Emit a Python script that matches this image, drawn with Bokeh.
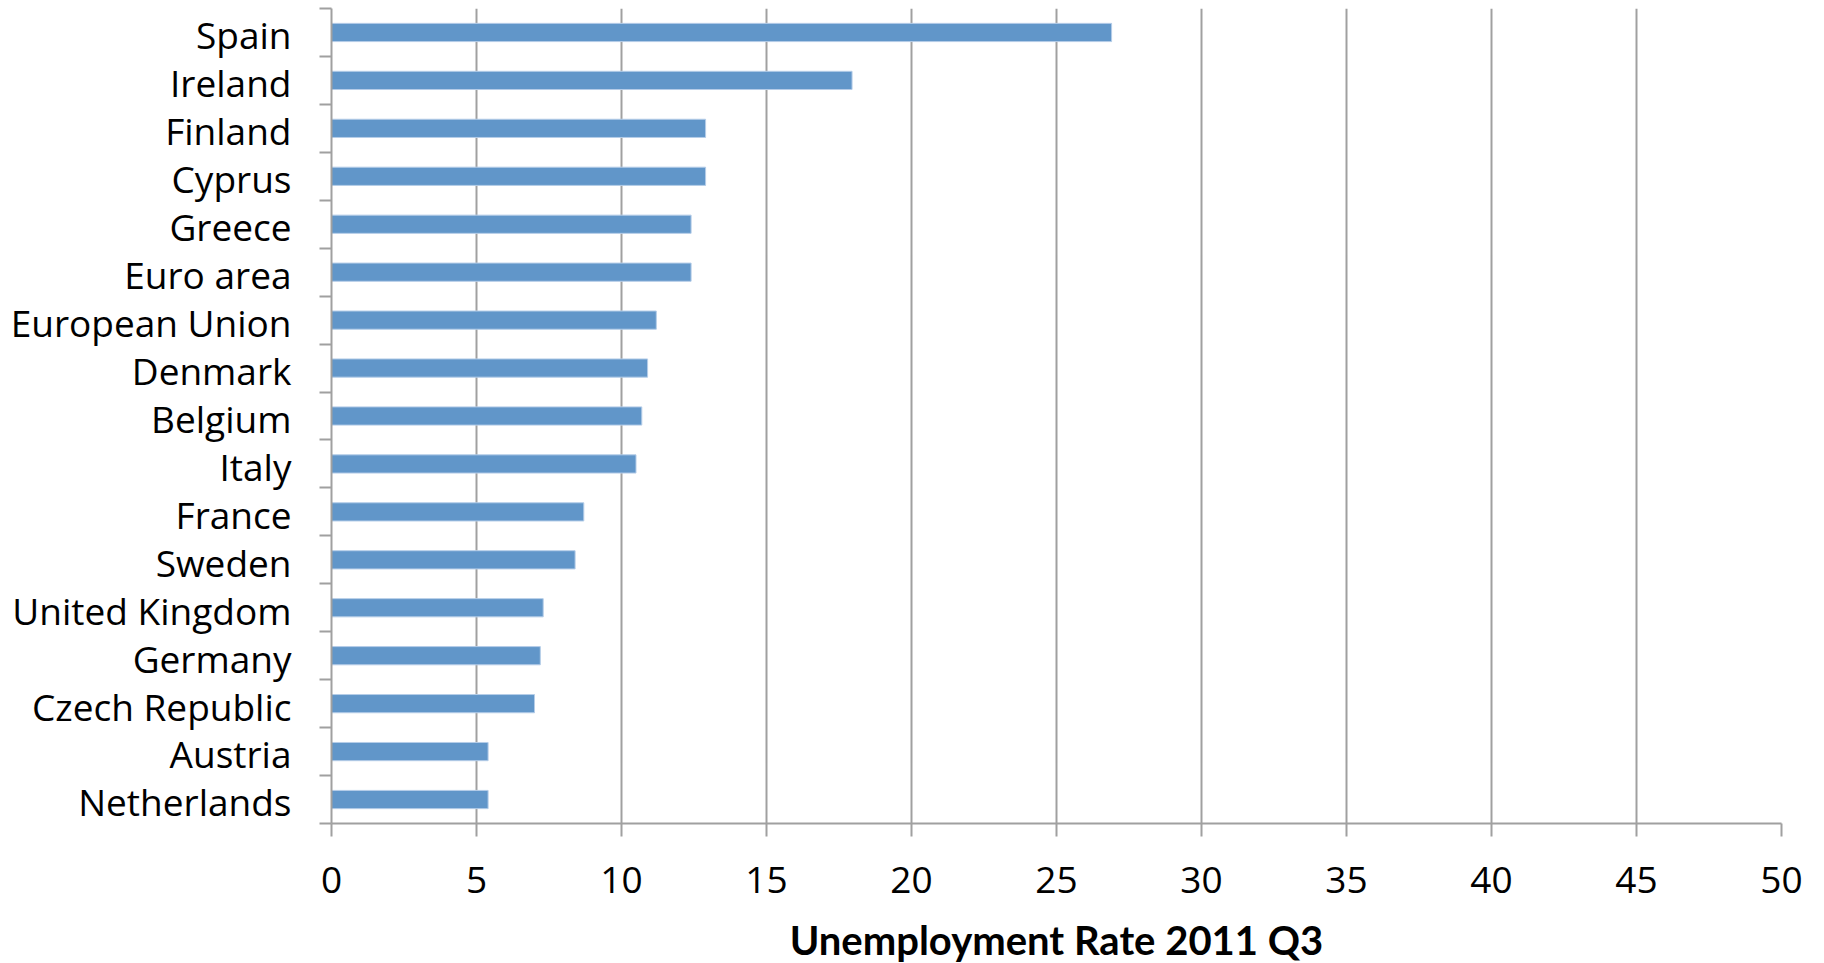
from bokeh.plotting import figure
from bokeh.models import Range1d, FixedTicker
from bokeh.embed import file_html
from bokeh.resources import INLINE

countries = ["Spain", "Ireland", "Finland", "Cyprus", "Greece", "Euro area",
             "European Union", "Denmark", "Belgium", "Italy", "France", "Sweden",
             "United Kingdom", "Germany", "Czech Republic", "Austria", "Netherlands"]
rates = [26.9, 17.95, 12.9, 12.9, 12.4, 12.4, 11.2, 10.9, 10.7, 10.5, 8.7, 8.4,
         7.3, 7.2, 7.0, 5.4, 5.4]
x_ticks = [0, 5, 10, 15, 20, 25, 30, 35, 40, 45, 50]
x_title = "Unemployment Rate 2011 Q3"

n = len(countries)
ypos = [n - i - 0.5 for i in range(n)]
label_pos = [y - 0.05 for y in ypos]
bounds = [float(k) for k in range(n + 1)]

FONT = "Open Sans"
TFONT = "Lato"
GRAY = "#A0A0A0"

p = figure(frame_width=1450, frame_height=815,
           min_border_left=331, min_border_right=35,
           min_border_top=8, min_border_bottom=132,
           x_range=Range1d(0, 50), y_range=Range1d(0, n),
           output_backend="svg", toolbar_location=None)
p.outline_line_color = None
p.background_fill_color = "white"
p.border_fill_color = "white"

p.hbar(y=ypos, right=rates, left=0, height=0.38,
       fill_color="#6196C9", line_color="#B5CDE8", line_width=1)

# x axis
p.xaxis.ticker = FixedTicker(ticks=x_ticks)
p.xaxis.axis_line_color = GRAY
p.xaxis.axis_line_width = 2
p.xaxis.major_tick_line_color = GRAY
p.xaxis.major_tick_line_width = 2
p.xaxis.major_tick_out = 13
p.xaxis.major_tick_in = 0
p.xaxis.minor_tick_line_color = None
p.xaxis.major_label_text_font = FONT
p.xaxis.major_label_text_font_size = "37px"
p.xaxis.major_label_text_color = "black"
p.xaxis.major_label_standoff = 30
p.xaxis.axis_label = x_title
p.xaxis.axis_label_text_font = TFONT
p.xaxis.axis_label_text_font_style = "bold"
p.xaxis.axis_label_text_font_size = "40px"
p.xaxis.axis_label_text_color = "black"
p.xaxis.axis_label_standoff = 20

p.xgrid.ticker = FixedTicker(ticks=x_ticks)
p.xgrid.grid_line_color = GRAY
p.xgrid.grid_line_width = 2
p.ygrid.grid_line_color = None

# y axis
p.yaxis.ticker = FixedTicker(ticks=label_pos, minor_ticks=bounds)
p.yaxis.major_label_overrides = {y: c for y, c in zip(label_pos, countries)}
p.yaxis.axis_line_color = GRAY
p.yaxis.axis_line_width = 2
p.yaxis.major_tick_line_color = None
p.yaxis.major_tick_out = 0
p.yaxis.major_tick_in = 0
p.yaxis.minor_tick_line_color = GRAY
p.yaxis.minor_tick_line_width = 2
p.yaxis.minor_tick_out = 12
p.yaxis.minor_tick_in = 0
p.yaxis.major_label_text_font = FONT
p.yaxis.major_label_text_font_size = "37px"
p.yaxis.major_label_text_color = "black"
p.yaxis.major_label_standoff = 28

open("out.html", "w").write(file_html(p, INLINE))
